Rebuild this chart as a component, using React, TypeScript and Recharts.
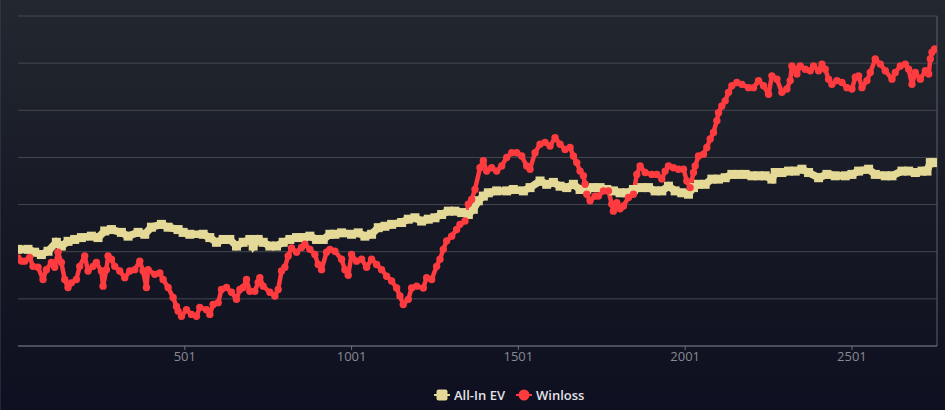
import { CartesianGrid, Line, LineChart, XAxis, YAxis } from 'recharts';

const evHands = [
  1, 31, 51, 71, 91, 116, 131, 151, 171, 191,
  221, 241, 261, 281, 311, 331, 361, 381, 401, 431,
  451, 481, 496, 516, 556, 576, 596, 616, 636, 656,
  676, 696, 706, 721, 736, 756, 776, 796, 816, 836,
  856, 876, 896, 916, 936, 951, 971, 1001, 1021, 1041,
  1061, 1081, 1101, 1121, 1151, 1171, 1191, 1211, 1231, 1251,
  1271, 1291, 1311, 1331, 1351, 1366, 1381, 1396, 1411, 1436,
  1466, 1486, 1516, 1536, 1566, 1586, 1606, 1626, 1646, 1666,
  1686, 1706, 1726, 1746, 1766, 1786, 1806, 1826, 1846, 1871,
  1891, 1911, 1931, 1951, 1971, 1991, 2011, 2026, 2041, 2061,
  2081, 2101, 2121, 2141, 2161, 2181, 2201, 2221, 2241, 2261,
  2271, 2291, 2311, 2331, 2351, 2371, 2401, 2426, 2451, 2481,
  2501, 2521, 2551, 2571, 2601, 2621, 2651, 2671, 2691, 2711,
  2726, 2736, 2746,
];

const evValues = [
  5, 5, -1, -6, 1, 20, 12, 22, 26, 30,
  33, 30, 44, 47, 41, 33, 41, 37, 52, 58,
  52, 47, 41, 37, 37, 30, 20, 26, 26, 12,
  20, 26, 12, 26, 20, 12, 12, 20, 26, 30,
  30, 33, 26, 26, 37, 37, 40, 37, 40, 33,
  37, 51, 54, 58, 62, 69, 72, 65, 69, 72,
  79, 86, 86, 83, 79, 90, 108, 118, 125, 129,
  129, 132, 129, 136, 150, 143, 147, 139, 136, 143,
  132, 132, 136, 136, 132, 129, 125, 125, 132, 136,
  136, 129, 129, 139, 129, 125, 122, 136, 143, 143,
  154, 154, 157, 164, 164, 164, 161, 161, 161, 154,
  168, 168, 171, 171, 175, 168, 157, 164, 161, 161,
  164, 171, 175, 164, 161, 161, 171, 171, 168, 171,
  171, 189, 189,
];

const winlossHands = [
  1, 11, 21, 36, 46, 61, 76, 86, 101, 111,
  121, 131, 141, 151, 161, 176, 186, 201, 211, 226,
  236, 251, 256, 266, 271, 281, 291, 306, 321, 336,
  351, 366, 376, 386, 391, 411, 426, 436, 451, 466,
  476, 481, 491, 506, 521, 536, 546, 566, 576, 586,
  601, 611, 626, 641, 656, 666, 676, 686, 696, 711,
  721, 726, 736, 756, 771, 781, 791, 801, 811, 821,
  836, 851, 861, 876, 891, 901, 911, 926, 936, 951,
  971, 981, 991, 1001, 1016, 1031, 1046, 1061, 1076, 1091,
  1106, 1121, 1136, 1146, 1156, 1171, 1181, 1196, 1216, 1226,
  1241, 1256, 1266, 1276, 1286, 1301, 1316, 1326, 1341, 1351,
  1361, 1371, 1386, 1396, 1406, 1421, 1436, 1451, 1466, 1481,
  1496, 1511, 1526, 1536, 1551, 1566, 1581, 1596, 1611, 1626,
  1641, 1656, 1666, 1676, 1686, 1696, 1701, 1706, 1716, 1731,
  1741, 1756, 1771, 1781, 1786, 1796, 1806, 1816, 1831, 1846,
  1856, 1866, 1881, 1901, 1916, 1931, 1941, 1951, 1966, 1981,
  1996, 2006, 2016, 2026, 2031, 2041, 2056, 2066, 2076, 2086,
  2096, 2101, 2111, 2121, 2131, 2141, 2156, 2171, 2191, 2206,
  2221, 2236, 2251, 2261, 2276, 2291, 2306, 2316, 2321, 2331,
  2336, 2346, 2361, 2376, 2386, 2401, 2411, 2421, 2431, 2441,
  2456, 2471, 2486, 2501, 2511, 2521, 2531, 2546, 2556, 2571,
  2586, 2601, 2621, 2631, 2646, 2661, 2671, 2681, 2691, 2706,
  2721, 2731, 2736, 2741, 2749,
];

const winlossValues = [
  -13, -20, -20, -12, -31, -33, -59, -38, -23, -33,
  -1, -23, -59, -76, -66, -59, -31, -9, -41, -31,
  -23, -41, -73, -38, -9, -16, -31, -41, -55, -41,
  -38, -20, -41, -76, -38, -48, -45, -59, -76, -97,
  -116, -126, -137, -123, -133, -137, -118, -123, -133, -112,
  -108, -80, -76, -86, -101, -80, -76, -59, -84, -84,
  -65, -55, -73, -86, -94, -80, -41, -33, -9, 8,
  -1, 9, 16, 5, -6, -27, -38, -1, 5, 1,
  -16, -38, -50, -6, -20, -16, -33, -16, -27, -38,
  -52, -62, -77, -94, -112, -101, -77, -73, -77, -55,
  -59, -31, -16, 5, 23, 33, 47, 58, 65, 101,
  111, 132, 178, 193, 171, 178, 171, 182, 200, 210,
  210, 203, 182, 175, 210, 228, 232, 224, 242, 228,
  217, 221, 203, 189, 171, 161, 143, 122, 108, 118,
  118, 129, 129, 101, 86, 104, 91, 97, 115, 122,
  164, 182, 168, 164, 164, 154, 171, 182, 178, 175,
  175, 150, 136, 168, 182, 203, 207, 221, 239, 253,
  278, 295, 309, 320, 338, 352, 359, 355, 348, 348,
  363, 352, 334, 373, 366, 338, 345, 363, 394, 387,
  377, 394, 387, 384, 394, 384, 398, 387, 366, 355,
  363, 359, 348, 345, 370, 373, 348, 363, 380, 409,
  398, 384, 366, 380, 394, 398, 387, 355, 380, 366,
  384, 377, 409, 423, 430,
];

const handTicks = [501, 1001, 1501, 2001, 2501];
const valueTicks = [-200, -100, 0, 100, 200, 300, 400, 500];

const seriesNames = ['All-In EV', 'Winloss'];

const EV_COLOR = '#e4d996';
const WL_COLOR = '#fe3b3f';

const evData = evHands.map((hand, i) => ({ hand, ev: evValues[i] }));
const winlossData = winlossHands.map((hand, i) => ({ hand, winloss: winlossValues[i] }));

const SquareDot = (props: any) => {
  const { cx, cy, index } = props;
  if (cx == null || cy == null) return null;
  return <rect key={`ev-${index}`} x={cx - 4.5} y={cy - 4.5} width={9} height={9} fill={EV_COLOR} />;
};

const RoundDot = (props: any) => {
  const { cx, cy, index } = props;
  if (cx == null || cy == null) return null;
  return <circle key={`wl-${index}`} cx={cx} cy={cy} r={3.7} fill={WL_COLOR} />;
};

// grid rows come from the value axis scale
const gridRows = (props: any) => {
  const { yAxis, offset } = props;
  if (yAxis && typeof yAxis.scale === 'function') {
    return valueTicks.map((v) => yAxis.scale(v));
  }
  return valueTicks.map((v) => offset.top + (offset.height * (500 - v)) / 700);
};

const rightEdge = (props: any) => {
  const { offset } = props;
  return [offset.left + offset.width];
};

const Legend = () => (
  <div
    style={{
      position: 'absolute',
      left: 433,
      top: 386,
      display: 'flex',
      alignItems: 'center',
      fontFamily: '"Open Sans", sans-serif',
      fontSize: 13,
      fontWeight: 600,
      color: '#e2e2e6',
    }}
  >
    <svg width={16} height={14}>
      <line x1={0} y1={7} x2={16} y2={7} stroke={EV_COLOR} strokeWidth={2} />
      <rect x={2.5} y={1.5} width={11} height={11} rx={2} fill={EV_COLOR} />
    </svg>
    <span style={{ marginLeft: 4, marginRight: 11 }}>{seriesNames[0]}</span>
    <svg width={16} height={14}>
      <line x1={0} y1={7} x2={16} y2={7} stroke={WL_COLOR} strokeWidth={2} />
      <circle cx={8} cy={7} r={5.5} fill={WL_COLOR} />
    </svg>
    <span style={{ marginLeft: 4 }}>{seriesNames[1]}</span>
  </div>
);

export default function App() {
  return (
    <div
      style={{
        position: 'absolute',
        left: 0,
        top: 0,
        width: 945,
        height: 410,
        background: 'linear-gradient(180deg, #23282f 0%, #171a25 50%, #0e0f20 100%)',
        borderLeft: '1px solid rgba(70, 80, 120, 0.35)',
        boxSizing: 'border-box',
        overflow: 'hidden',
      }}
    >
      <LineChart width={944} height={410} margin={{ top: 16, right: 8, bottom: 34, left: 17 }}>
        <CartesianGrid vertical={false} stroke='#45484f' horizontalCoordinatesGenerator={gridRows} />
        <CartesianGrid horizontal={false} stroke='#5e616b' verticalCoordinatesGenerator={rightEdge} />
        <XAxis
          dataKey='hand'
          type='number'
          domain={[1, 2756]}
          ticks={handTicks}
          allowDataOverflow
          height={30}
          stroke='#6e717a'
          tickSize={4}
          tickMargin={2}
          tick={{ fill: '#878a92', fontSize: 13, fontFamily: '"Open Sans", sans-serif' }}
        />
        <YAxis
          type='number'
          domain={[-200, 500]}
          ticks={valueTicks}
          width={0}
          tick={false}
          tickLine={false}
          axisLine={false}
        />
        <Line
          data={evData}
          dataKey='ev'
          name={seriesNames[0]}
          type='linear'
          stroke={EV_COLOR}
          strokeWidth={7.5}
          strokeLinejoin='miter'
          dot={SquareDot}
          activeDot={false}
          isAnimationActive={false}
        />
        <Line
          data={winlossData}
          dataKey='winloss'
          name={seriesNames[1]}
          type='linear'
          stroke={WL_COLOR}
          strokeWidth={4.5}
          strokeLinejoin='round'
          dot={RoundDot}
          activeDot={false}
          isAnimationActive={false}
        />
      </LineChart>
      <Legend />
    </div>
  );
}
